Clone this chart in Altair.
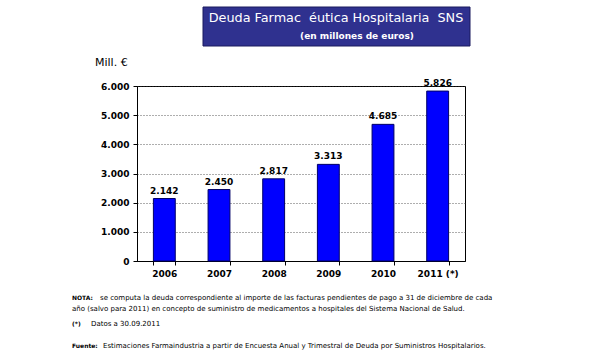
import altair as alt
import pandas as pd

years = ["2006", "2007", "2008", "2009", "2010", "2011 (*)"]
deuda = [2142, 2450, 2817, 3313, 4685, 5826]
y_ticks = [0, 1000, 2000, 3000, 4000, 5000, 6000]

df = pd.DataFrame({"year": years, "deuda": deuda})

FONT = "DejaVu Sans"
W, H = 328, 175

x_enc = alt.X("year:N", sort=years, title=None,
              scale=alt.Scale(paddingInner=0.6, paddingOuter=0.3),
              axis=alt.Axis(labelAngle=0, labelFont=FONT, labelFontWeight="bold",
                            labelFontSize=9, labelColor="black", labelPadding=4,
                            domainColor="black", tickColor="black", tickSize=4,
                            tickBand="extent", grid=False))
y_enc = alt.Y("deuda:Q", title=None,
              scale=alt.Scale(domain=[0, 6000], nice=False),
              axis=alt.Axis(values=y_ticks, labelOverlap=False, labelFont=FONT,
                            labelFontWeight="bold",
                            labelFontSize=9, labelColor="black", labelPadding=4,
                            labelExpr="replace(format(datum.value, ',d'), ',', '.')",
                            domainColor="black", tickColor="black", tickSize=4,
                            grid=True, gridColor="#333333", gridDash=[1, 2],
                            gridWidth=0.8))

bars = alt.Chart(df).mark_bar(color="#0000ff", stroke="#000066", strokeWidth=1).encode(
    x=x_enc, y=y_enc)

labels = alt.Chart(df).transform_calculate(
    lab="replace(format(datum.deuda, ',d'), ',', '.')"
).mark_text(font=FONT, fontWeight="bold", fontSize=9, dy=-8, color="black").encode(
    x=x_enc, y=y_enc, text="lab:N")

one = pd.DataFrame({"k": [0]})
base = alt.Chart(one)

title_box = base.mark_rect(fill="#2f318f", stroke="#1a1a5e", strokeWidth=1).encode(
    x=alt.value(66), x2=alt.value(333), y=alt.value(-79), y2=alt.value(-40))
title_txt = base.mark_text(font=FONT, fontSize=12.8, color="white", baseline="middle").encode(
    x=alt.value(199), y=alt.value(-68),
    text=alt.value("Deuda Farmac\u00a0\u00a0éutica Hospitalaria\u00a0\u00a0SNS"))
sub_txt = base.mark_text(font=FONT, fontSize=9, fontWeight="bold", color="white",
                         baseline="middle").encode(
    x=alt.value(220), y=alt.value(-50), text=alt.value("(en millones de euros)"))
mill = base.mark_text(font=FONT, fontSize=11, color="black", align="left",
                      baseline="middle").encode(
    x=alt.value(-42), y=alt.value(-23), text=alt.value("Mill. €"))

def note(x, y, s, size=7, weight="normal"):
    return base.mark_text(font=FONT, fontSize=size, fontWeight=weight, color="black",
                          align="left", baseline="middle").encode(
        x=alt.value(x), y=alt.value(y), text=alt.value(s))

notes = [
    note(-65, 212, "NOTA:", 6, "bold"),
    note(-37, 212, "se computa la deuda correspondiente al importe de las facturas pendientes de pago a 31 de diciembre de cada"),
    note(-65, 223, "año (salvo para 2011) en concepto de suministro de medicamentos a  hospitales del Sistema Nacional de Salud."),
    note(-65, 238, "(*)", 6, "bold"),
    note(-46, 238, "Datos a 30.09.2011"),
    note(-65, 260, "Fuente:", 6, "bold"),
    note(-34, 260, "Estimaciones Farmaindustria a partir de Encuesta Anual y Trimestral de Deuda por Suministros Hospitalarios."),
]

chart = alt.layer(bars, labels, title_box, title_txt, sub_txt, mill, *notes).properties(
    width=W, height=H,
    autosize=alt.AutoSizeParams(type="none"),
    padding={"left": 137, "top": 86, "right": 125, "bottom": 96},
    background="white",
).configure_view(stroke="black", strokeWidth=1)

chart.save("out.html", embed_options={"renderer": "svg", "actions": False})
